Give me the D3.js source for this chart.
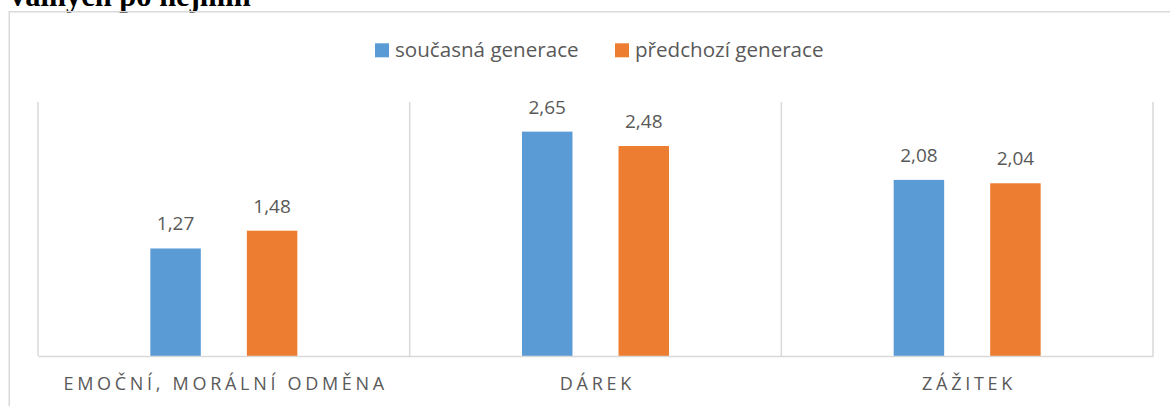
<!DOCTYPE html>
<html>
<head>
<meta charset="utf-8">
<script src="https://cdn.jsdelivr.net/npm/d3@7"></script>
<style>
  html, body { margin: 0; padding: 0; background: #fff; overflow: hidden; }
  svg { display: block; }
</style>
</head>
<body>
<svg id="chart" width="1170" height="406"></svg>
<script>
const categories = ["EMOČNÍ, MORÁLNÍ ODMĚNA", "DÁREK", "ZÁŽITEK"];
const seriesNames = ["současná generace", "předchozí generace"];
const currentGen = [1.27, 2.65, 2.08];
const previousGen = [1.48, 2.48, 2.04];
const seriesColors = ["#5B9BD5", "#ED7D31"];
const titleText = "valných po nejmin";

const seriesValues = [currentGen, previousGen];
const data = categories.map((c, i) => ({
  category: c,
  values: seriesNames.map((s, j) => ({ series: s, value: seriesValues[j][i], color: seriesColors[j] }))
}));

const svg = d3.select("#chart");
const W = 1170, H = 406;
const plot = { left: 38, right: 1153, top: 102, bottom: 356 };
const gridColor = "#d9d9d9";
const textColor = "#595959";
const font = "'Open Sans', 'Noto Sans', sans-serif";

// title of the document, cut off at the top as in the reference
svg.append("text")
  .attr("x", 10).attr("y", 6)
  .attr("font-family", "'Liberation Serif', 'Times New Roman', serif")
  .attr("font-weight", "bold")
  .attr("font-size", 30.5)
  .attr("fill", "#000")
  .text(titleText);

// chart frame (extends beyond view on right and bottom)
svg.append("rect")
  .attr("x", 9.25).attr("y", 11.75)
  .attr("width", W + 20).attr("height", H + 20)
  .attr("fill", "none")
  .attr("stroke", gridColor)
  .attr("stroke-width", 1.5);

const x0 = d3.scaleBand().domain(categories).range([plot.left, plot.right]).paddingInner(0).paddingOuter(0);
const x1 = d3.scaleBand().domain(seriesNames).range([0, x0.bandwidth()]).paddingInner(0.477).paddingOuter(1.164);
const y = d3.scaleLinear().domain([0, 3]).range([plot.bottom, plot.top]);

// vertical gridlines at category boundaries
const bounds = categories.map(c => x0(c)).concat([x0(categories[categories.length - 1]) + x0.bandwidth()]);
svg.append("g").selectAll("line").data(bounds).join("line")
  .attr("x1", d => d).attr("x2", d => d)
  .attr("y1", y(3)).attr("y2", y(0))
  .attr("stroke", gridColor).attr("stroke-width", 1.5);

// bars
const groups = svg.append("g").selectAll("g").data(data).join("g")
  .attr("transform", d => `translate(${x0(d.category)},0)`);

groups.selectAll("rect").data(d => d.values).join("rect")
  .attr("x", d => x1(d.series))
  .attr("width", x1.bandwidth())
  .attr("y", d => y(d.value))
  .attr("height", d => y(0) - y(d.value))
  .attr("fill", d => d.color);

groups.selectAll("text").data(d => d.values).join("text")
  .attr("x", d => x1(d.series) + x1.bandwidth() / 2)
  .attr("y", d => y(d.value) - 18)
  .attr("text-anchor", "middle")
  .attr("font-family", font)
  .attr("font-size", 19)
  .attr("fill", textColor)
  .text(d => d3.format(".2f")(d.value).replace(".", ","));

// x axis line and category labels
const xAxis = d3.axisBottom(x0).tickSize(0).tickPadding(0);
const axisG = svg.append("g").attr("transform", `translate(0,${plot.bottom})`).call(xAxis);
axisG.select(".domain").attr("stroke", gridColor).attr("stroke-width", 1.5);
axisG.selectAll(".tick text")
  .attr("y", 34)
  .attr("dy", 0)
  .attr("font-family", font)
  .attr("font-size", 18)
  .attr("letter-spacing", "3.7px")
  .attr("fill", textColor)
  .attr("dx", 1.85);

// legend
const legendItems = [
  { name: seriesNames[0], color: seriesColors[0], x: 375 },
  { name: seriesNames[1], color: seriesColors[1], x: 615 }
];
const lg = svg.append("g").selectAll("g").data(legendItems).join("g")
  .attr("transform", d => `translate(${d.x},0)`);
lg.append("rect").attr("x", 0).attr("y", 43.3).attr("width", 14).attr("height", 14).attr("fill", d => d.color);
lg.append("text").attr("x", 20).attr("y", 57)
  .attr("font-family", font).attr("font-size", 20.6).attr("fill", textColor)
  .text(d => d.name);
</script>
</body>
</html>
